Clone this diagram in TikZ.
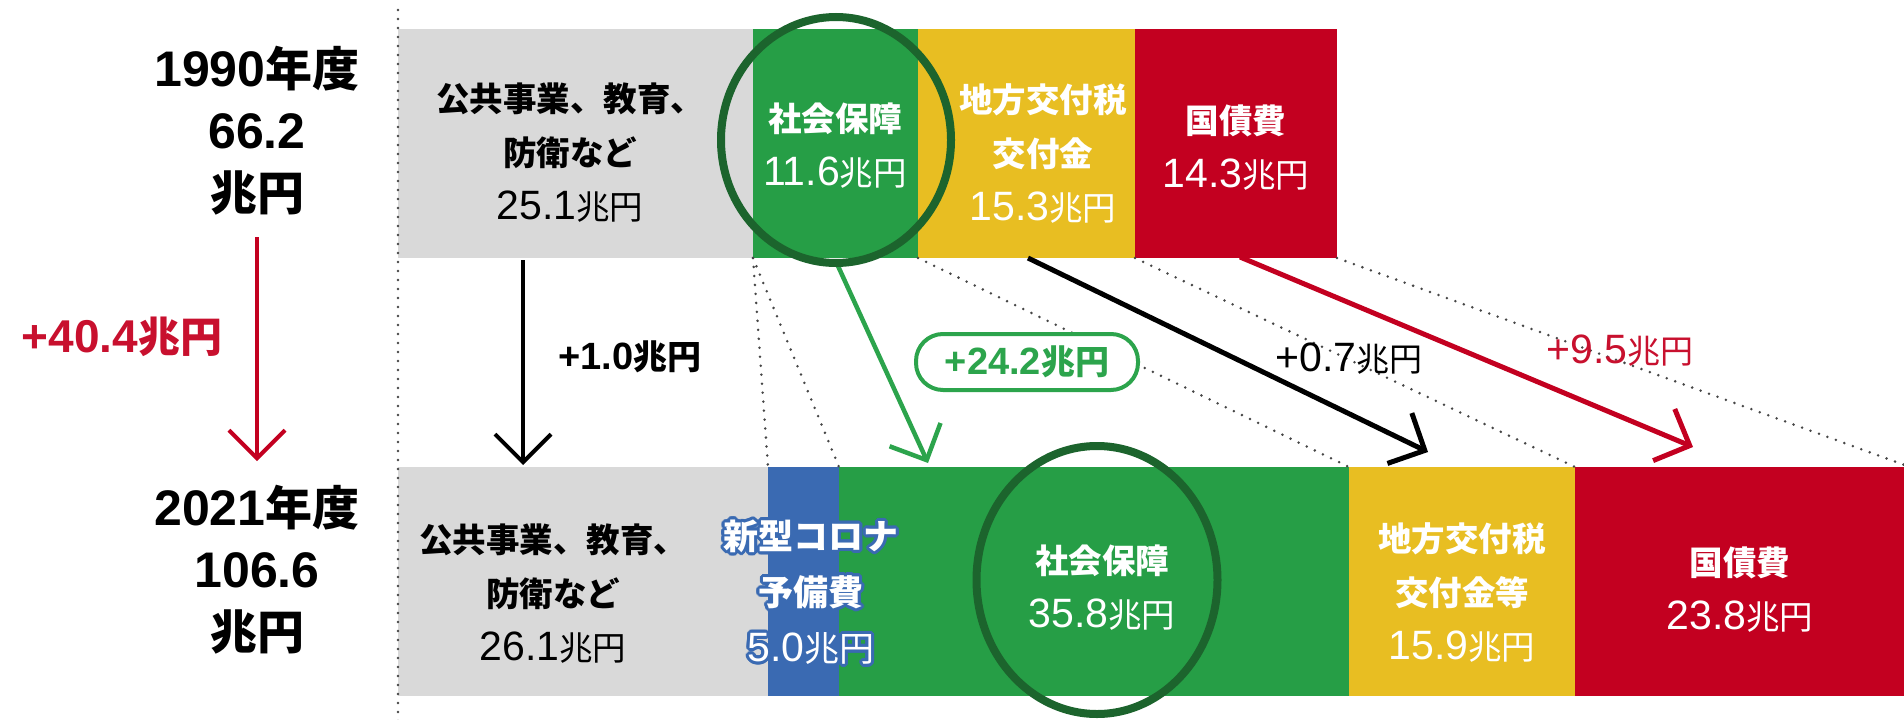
\documentclass[tikz,border=0pt]{standalone}
\usepackage{fontspec}
\setmainfont{Liberation Sans}
\newfontfamily\jp{Noto Sans CJK JP}
\usetikzlibrary{arrows.meta,shapes.geometric}
\definecolor{barGray}{RGB}{217,217,217}
\definecolor{barGreen}{RGB}{38,158,70}
\definecolor{barYellow}{RGB}{232,190,34}
\definecolor{barRed}{RGB}{195,0,32}
\definecolor{barBlue}{RGB}{58,106,178}
\definecolor{ringGreen}{RGB}{28,100,45}
\definecolor{txtRed}{RGB}{200,16,46}
\definecolor{arrGreen}{RGB}{44,164,76}
\definecolor{dotGray}{RGB}{70,70,70}
\tikzset{
  barbox/.style={draw=none, inner sep=0pt, outer sep=0pt, minimum height=229pt, anchor=north west},
  dotline/.style={dotGray, line width=2.8pt, line cap=round, dash pattern=on 0pt off 9pt},
  boxtxt/.style={align=center, inner sep=0pt, font=\fontsize{33.5}{54}\selectfont},
  lefttxt/.style={align=center, inner sep=0pt, font=\fontsize{47}{62}\selectfont\bfseries},
  difftxt/.style={inner sep=0pt, font=\fontsize{33}{40}\selectfont},
  ring/.style={draw=ringGreen, line width=8pt, ellipse, inner sep=0pt},
  barbtip/.style={-{Straight Barb[length=28pt,width=56pt]}},
  blkarrow/.style={black, line width=5pt, barbtip},
  redarrow/.style={barRed, line width=5pt, barbtip},
  grnarrow/.style={arrGreen, line width=4.5pt, barbtip},
  coronatxt/.style={align=center, inner sep=0pt, font=\fontsize{35}{56}\selectfont}
}
% number in a bar (Latin digits a bit larger than the CJK)
\newcommand{\bnum}[1]{{\fontsize{41}{54}\selectfont #1}{\jp 兆円}}
\newcommand{\jb}[1]{{\jp\bfseries #1}}
% outlined text: blue halo with white text, in one box
\newcommand{\olc}[3]{\rlap{\kern#1\raisebox{#2}{\textcolor{barBlue}{#3}}}}
\newcommand{\outl}[1]{%
  \olc{3pt}{0pt}{#1}\olc{-3pt}{0pt}{#1}\olc{0pt}{3pt}{#1}\olc{0pt}{-3pt}{#1}%
  \olc{2.1pt}{2.1pt}{#1}\olc{-2.1pt}{2.1pt}{#1}\olc{2.1pt}{-2.1pt}{#1}\olc{-2.1pt}{-2.1pt}{#1}%
  \olc{2.8pt}{1.2pt}{#1}\olc{-2.8pt}{1.2pt}{#1}\olc{2.8pt}{-1.2pt}{#1}\olc{-2.8pt}{-1.2pt}{#1}%
  \olc{1.2pt}{2.8pt}{#1}\olc{-1.2pt}{2.8pt}{#1}\olc{1.2pt}{-2.8pt}{#1}\olc{-1.2pt}{-2.8pt}{#1}%
  \textcolor{white}{#1}}
\begin{document}
\begin{tikzpicture}[x=1pt,y=-1pt]
\useasboundingbox (0,0) rectangle (1904,720);
\fill[white] (0,0) rectangle (1904,720);
\clip (0,0) rectangle (1904,720);

% ---- bars 1990
\node[barbox, fill=barGray,   minimum width=355pt] (G1) at (398,29) {};
\node[barbox, fill=barGreen,  minimum width=165pt] (S1) at (753,29) {};
\node[barbox, fill=barYellow, minimum width=217pt] (Y1) at (918,29) {};
\node[barbox, fill=barRed,    minimum width=202pt] (R1) at (1135,29) {};
% ---- bars 2021
\node[barbox, fill=barGray,   minimum width=370pt] (G2) at (398,467) {};
\node[barbox, fill=barBlue,   minimum width=71pt]  (B2) at (768,467) {};
\node[barbox, fill=barGreen,  minimum width=510pt] (S2) at (839,467) {};
\node[barbox, fill=barYellow, minimum width=226pt] (Y2) at (1349,467) {};
\node[barbox, fill=barRed,    minimum width=335pt] (R2) at (1575,467) {};

% ---- dotted guide lines
\coordinate (vtop) at (398,10);
\coordinate (vbot) at (398,722);
\draw[dotline] (vtop) -- (vbot);
\draw[dotline] (S1.south west) -- (B2.north west);
\draw[dotline] (S1.south west) -- (B2.north east);
\draw[dotline] (Y1.south west) -- (Y2.north west);
\draw[dotline] (R1.south west) -- (R2.north west);
\draw[dotline] (R1.south east) -- (R2.north east);

% ---- arrows
\coordinate (rvs) at (257,237);
\coordinate (rve) at (257,461);
\draw[redarrow, line width=4pt] (rvs) -- (rve);
\coordinate (bvs) at (523,260);
\coordinate (bve) at (523,465);
\draw[blkarrow, line width=4pt] (bvs) -- (bve);
\coordinate (gas) at (838,266);
\coordinate (gae) at (928,463);
\draw[grnarrow] (gas) -- (gae);
\coordinate (bds) at (1028,258);
\coordinate (bde) at (1428,452);
\draw[blkarrow] (bds) -- (bde);
\coordinate (rds) at (1240,257);
\coordinate (rde) at (1693,447);
\draw[redarrow] (rds) -- (rde);

% ---- rings
\node[ring, minimum width=230pt, minimum height=246pt] (ring1) at (836,140) {};
\node[ring, minimum width=241pt, minimum height=268pt] (ring2) at (1097,580) {};

% ---- left labels
\node[lefttxt] (y1990) at (257,131) {{\fontsize{50}{62}\selectfont 1990}\jb{年度}\\{\fontsize{50}{62}\selectfont 66.2}\\\jb{兆円}};
\node[lefttxt] (y2021) at (257,570) {{\fontsize{50}{62}\selectfont 2021}\jb{年度}\\{\fontsize{50}{62}\selectfont 106.6}\\\jb{兆円}};
\node[difftxt, font=\fontsize{46}{48}\selectfont\bfseries, text=txtRed] (d404) at (122,337) {+40.4{\fontsize{42}{48}\selectfont\jb{兆円}}};

% ---- 1990 texts
\node[boxtxt] (tG1) at (570,153) {\jb{公共事業、教育、}\\\jb{防衛など}\\\bnum{25.1}};
\node[boxtxt, text=white] (tS1) at (835,146) {\jb{社会保障}\\\bnum{11.6}};
\node[boxtxt, text=white] (tY1) at (1043,154) {\jb{地方交付税}\\\jb{交付金}\\\bnum{15.3}};
\node[boxtxt, text=white] (tR1) at (1236,148) {\jb{国債費}\\\bnum{14.3}};

% ---- 2021 texts
\node[boxtxt] (tG2) at (553,594) {\jb{公共事業、教育、}\\\jb{防衛など}\\\bnum{26.1}};
\node[coronatxt] (tB2) at (811,592) {\outl{\jb{新型コロナ}}\\\outl{\jb{予備費}}\\\outl{{\fontsize{41}{56}\selectfont 5.0}{\jp 兆円}}};
\node[boxtxt, text=white] (tS2) at (1102,588) {\jb{社会保障}\\\bnum{35.8}};
\node[boxtxt, text=white] (tY2) at (1462,593) {\jb{地方交付税}\\\jb{交付金等}\\\bnum{15.9}};
\node[boxtxt, text=white] (tR2) at (1740,590) {\jb{国債費}\\\bnum{23.8}};

% ---- differences
\node[difftxt, font=\fontsize{38}{40}\selectfont\bfseries] (d10) at (630,357) {+1.0{\fontsize{34}{40}\selectfont\jb{兆円}}};
\node[difftxt, draw=arrGreen, line width=4pt, fill=white, rounded corners=27pt,
      minimum width=222pt, minimum height=56pt, text=arrGreen,
      font=\fontsize{38}{40}\selectfont\bfseries] (d242) at (1027,362) {+24.2{\fontsize{34}{40}\selectfont\jb{兆円}}};
\node[difftxt, font=\fontsize{41}{40}\selectfont] (d07) at (1349,359) {+0.7{\fontsize{33}{40}\selectfont\jp 兆円}};
\node[difftxt, font=\fontsize{41}{40}\selectfont, text=txtRed] (d95) at (1620,351) {+9.5{\fontsize{33}{40}\selectfont\jp 兆円}};
\end{tikzpicture}
\end{document}
